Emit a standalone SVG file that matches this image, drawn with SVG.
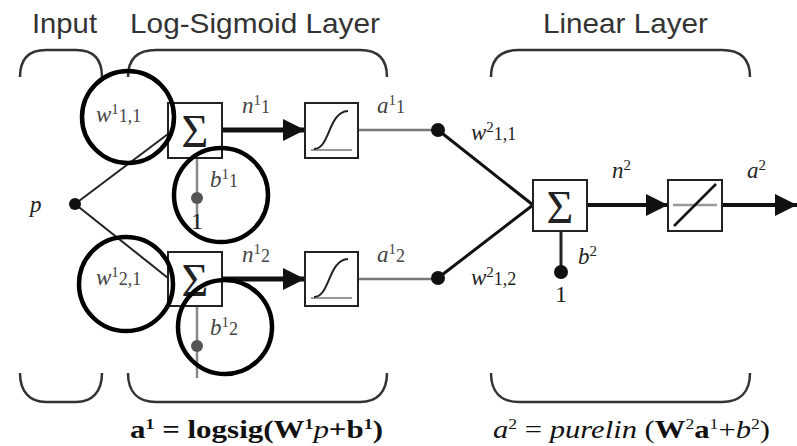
<svg xmlns="http://www.w3.org/2000/svg" width="797" height="446" viewBox="0 0 797 446">
<defs>
<style>
.title{font-family:"Liberation Sans",Arial,sans-serif;font-size:28px;fill:#333}
.lbl{font-family:"Liberation Serif","Times New Roman",serif;font-style:italic;font-size:23px;fill:#444}
.lbl2{font-family:"Liberation Serif","Times New Roman",serif;font-style:italic;font-size:23px;fill:#222}
.one{font-family:"Liberation Serif","Times New Roman",serif;font-size:24px;fill:#222}
.sup{font-size:15px;font-style:normal}
.sub{font-size:18px;font-style:normal}
.box{fill:#fff;stroke:#222;stroke-width:2}
.sig{font-family:"Liberation Serif","Times New Roman",serif;font-size:46px;fill:#222}
.brace{fill:none;stroke:#333;stroke-width:2.5}
.ring{fill:none;stroke:#000;stroke-width:4.5}
.formula{font-family:"Liberation Serif","Times New Roman",serif;font-size:26px;fill:#111}
</style>
<marker id="ah" viewBox="0 0 10 10" refX="10" refY="5" markerUnits="userSpaceOnUse" markerWidth="22" markerHeight="22" orient="auto">
<path d="M0,0 L10,5 L0,10 Z" fill="#111"/>
</marker>
</defs>
<rect width="797" height="446" fill="#fff"/>

<g id="titles">
<text class="title" x="32" y="33" textLength="65" lengthAdjust="spacingAndGlyphs">Input</text>
<text class="title" x="130" y="33" textLength="250" lengthAdjust="spacingAndGlyphs">Log-Sigmoid Layer</text>
<text class="title" x="543" y="33" textLength="165" lengthAdjust="spacingAndGlyphs">Linear Layer</text>
</g>

<g id="braces">
<path class="brace" d="M20,77 C20,58 30,50 46,50 L76,50 C92,50 102,58 102,77"/>
<path class="brace" d="M128,77 C128,58 138,50 156,50 L360,50 C377,50 387,58 387,77"/>
<path class="brace" d="M491,77 C491,58 501,50 519,50 L722,50 C740,50 750,58 750,77"/>
<path class="brace" d="M20,373 C20,392 30,402 46,402 L76,402 C92,402 102,392 102,373"/>
<path class="brace" d="M128,373 C128,392 138,402 156,402 L360,402 C377,402 387,392 387,373"/>
<path class="brace" d="M491,373 C491,392 501,402 519,402 L722,402 C740,402 750,392 750,373"/>
</g>

<g id="connectors" fill="none">
<line x1="75" y1="204" x2="168" y2="134" stroke="#222" stroke-width="2"/>
<line x1="75" y1="204" x2="168" y2="278" stroke="#222" stroke-width="2"/>
<line x1="197" y1="158" x2="197" y2="228" stroke="#888" stroke-width="2.5"/>
<line x1="197" y1="306" x2="197" y2="378" stroke="#888" stroke-width="2.5"/>
<line x1="222" y1="130" x2="305" y2="130" stroke="#111" stroke-width="5" marker-end="url(#ah)"/>
<line x1="222" y1="279" x2="305" y2="279" stroke="#111" stroke-width="5" marker-end="url(#ah)"/>
<line x1="358" y1="130" x2="438" y2="130" stroke="#777" stroke-width="2.5"/>
<line x1="358" y1="279" x2="438" y2="279" stroke="#777" stroke-width="2.5"/>
<line x1="438" y1="130" x2="533" y2="205" stroke="#111" stroke-width="3"/>
<line x1="438" y1="278" x2="533" y2="205" stroke="#111" stroke-width="3"/>
<line x1="587" y1="205" x2="668" y2="205" stroke="#111" stroke-width="4" marker-end="url(#ah)"/>
<line x1="722" y1="205" x2="797" y2="205" stroke="#111" stroke-width="4" marker-end="url(#ah)"/>
<line x1="561" y1="231" x2="561" y2="272" stroke="#222" stroke-width="3"/>
</g>

<g id="input">
<circle cx="75" cy="204" r="6" fill="#111"/>
<text class="lbl2" x="30" y="212">p</text>
</g>

<g id="sum1">
<rect class="box" x="168" y="103" width="54" height="55"/>
<text class="sig" x="195" y="147" text-anchor="middle">Σ</text>
<circle cx="197" cy="198" r="6" fill="#555"/>
<text class="one" x="191" y="229" fill="#777">1</text>
</g>

<g id="sum2">
<rect class="box" x="168" y="252" width="54" height="54"/>
<text class="sig" x="195" y="296" text-anchor="middle">Σ</text>
<circle cx="197" cy="346" r="6" fill="#555"/>
</g>

<g id="sigmoid1">
<rect class="box" x="305" y="103" width="53" height="55"/>
<line x1="311" y1="150" x2="352" y2="150" stroke="#999" stroke-width="2"/>
<path d="M314,149 C330,149 328,112 348,111" fill="none" stroke="#222" stroke-width="2"/>
</g>

<g id="sigmoid2">
<rect class="box" x="305" y="252" width="53" height="54"/>
<line x1="311" y1="298" x2="352" y2="298" stroke="#999" stroke-width="2"/>
<path d="M314,297 C330,297 328,260 348,259" fill="none" stroke="#222" stroke-width="2"/>
</g>

<g id="dots">
<circle cx="438" cy="130" r="7" fill="#111"/>
<circle cx="438" cy="278" r="7" fill="#111"/>
</g>

<g id="sum3">
<rect class="box" x="533" y="180" width="54" height="51"/>
<text class="sig" x="560" y="223" text-anchor="middle">Σ</text>
<circle cx="561" cy="272" r="7" fill="#111"/>
<text class="one" x="555" y="302">1</text>
</g>

<g id="linear">
<rect class="box" x="668" y="180" width="54" height="51"/>
<line x1="673" y1="205" x2="717" y2="205" stroke="#999" stroke-width="2.5"/>
<line x1="674" y1="226" x2="716" y2="184" stroke="#111" stroke-width="2.5"/>
</g>

<g id="labels">
<text class="lbl" x="96" y="122">w<tspan class="sup" dy="-8">1</tspan><tspan class="sub" dy="8">1,1</tspan></text>
<text class="lbl" x="96" y="285">w<tspan class="sup" dy="-8">1</tspan><tspan class="sub" dy="8">2,1</tspan></text>
<text class="lbl" x="210" y="187">b<tspan class="sup" dy="-8">1</tspan><tspan class="sub" dy="8">1</tspan></text>
<text class="lbl" x="210" y="335">b<tspan class="sup" dy="-8">1</tspan><tspan class="sub" dy="8">2</tspan></text>
<text class="lbl" x="242" y="113">n<tspan class="sup" dy="-8">1</tspan><tspan class="sub" dy="8">1</tspan></text>
<text class="lbl" x="242" y="262">n<tspan class="sup" dy="-8">1</tspan><tspan class="sub" dy="8">2</tspan></text>
<text class="lbl" x="377" y="113">a<tspan class="sup" dy="-8">1</tspan><tspan class="sub" dy="8">1</tspan></text>
<text class="lbl" x="377" y="262">a<tspan class="sup" dy="-8">1</tspan><tspan class="sub" dy="8">2</tspan></text>
<text class="lbl2" x="471" y="140">w<tspan class="sup" dy="-8">2</tspan><tspan class="sub" dy="8">1,1</tspan></text>
<text class="lbl2" x="471" y="285">w<tspan class="sup" dy="-8">2</tspan><tspan class="sub" dy="8">1,2</tspan></text>
<text class="lbl2" x="578" y="264">b<tspan class="sup" dy="-8">2</tspan></text>
<text class="lbl2" x="612" y="178">n<tspan class="sup" dy="-8">2</tspan></text>
<text class="lbl2" x="747" y="178">a<tspan class="sup" dy="-8">2</tspan></text>
</g>

<g id="rings">
<circle class="ring" cx="128" cy="117" r="46"/>
<circle class="ring" cx="221" cy="195" r="47"/>
<circle class="ring" cx="126" cy="284" r="47"/>
<circle class="ring" cx="225" cy="327" r="47"/>
</g>

<g id="formulas">
<text class="formula" x="130" y="438" font-weight="bold" textLength="253" lengthAdjust="spacingAndGlyphs">a<tspan class="sup" dy="-9">1</tspan><tspan dy="9"> = logsig(W</tspan><tspan class="sup" dy="-9">1</tspan><tspan dy="9" font-style="italic" font-weight="normal">p</tspan><tspan>+b</tspan><tspan class="sup" dy="-9">1</tspan><tspan dy="9">)</tspan></text>
<text class="formula" x="493" y="438" textLength="277" lengthAdjust="spacingAndGlyphs"><tspan font-style="italic">a</tspan><tspan class="sup" dy="-9">2</tspan><tspan dy="9"> = </tspan><tspan font-style="italic">purelin</tspan><tspan> (</tspan><tspan font-weight="bold">W</tspan><tspan class="sup" dy="-9">2</tspan><tspan dy="9" font-weight="bold">a</tspan><tspan class="sup" dy="-9">1</tspan><tspan dy="9">+</tspan><tspan font-style="italic">b</tspan><tspan class="sup" dy="-9">2</tspan><tspan dy="9">)</tspan></text>
</g>
</svg>
